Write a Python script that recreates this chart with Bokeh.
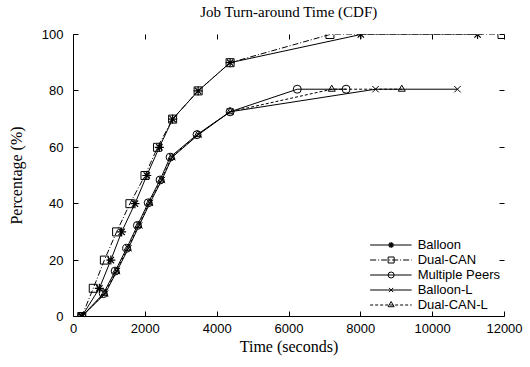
from bokeh.plotting import figure
from bokeh.models import LinearAxis, Legend, LegendItem, Range1d
from bokeh.embed import file_html
from bokeh.resources import INLINE

# ---- data ----
pct_upper = [0, 10, 20, 30, 40, 50, 60, 70, 80, 90, 100, 100]
pct_lower = [0, 8.1, 16.1, 24.2, 32.3, 40.3, 48.4, 56.5, 64.5, 72.6, 80.6, 80.6]

time_balloon = [230, 720, 1040, 1340, 1710, 2040, 2390, 2760, 3470, 4360, 8000, 11250]
time_dualcan = [230, 550, 860, 1200, 1570, 1990, 2340, 2760, 3470, 4360, 7140, 11930]
time_multipeers = [230, 830, 1160, 1480, 1780, 2080, 2410, 2690, 3440, 4360, 6230, 7590]
time_balloon_l = [230, 880, 1210, 1530, 1830, 2130, 2460, 2750, 3480, 4360, 8410, 10690]
time_dualcan_l = [230, 860, 1190, 1510, 1810, 2110, 2440, 2730, 3460, 4360, 7190, 9140]

x_ticks = [0, 2000, 4000, 6000, 8000, 10000, 12000]
y_ticks = [0, 20, 40, 60, 80, 100]

TITLE = "Job Turn-around Time (CDF)"
SERIF = "Liberation Serif"
SANS = "Liberation Sans"

p = figure(
    frame_width=431, frame_height=282,
    min_border_left=73, min_border_right=24, min_border_top=34, min_border_bottom=48,
    x_range=Range1d(0, 12000), y_range=Range1d(0, 100),
    output_backend="svg", toolbar_location=None,
)

p.outline_line_color = None
p.xgrid.visible = False
p.ygrid.visible = False
p.background_fill_color = "white"
p.border_fill_color = "white"

for ax in (p.xaxis[0], p.yaxis[0]):
    ax.major_tick_in = 5
    ax.major_tick_out = 0
    ax.minor_tick_line_color = None
    ax.axis_line_color = "black"
    ax.major_tick_line_color = "black"
    ax.major_label_text_font = SANS
    ax.major_label_text_font_size = "13px"
    ax.major_label_text_color = "black"
    ax.axis_label_text_font = SERIF
    ax.axis_label_text_font_size = "16px"
    ax.axis_label_text_font_style = "normal"
    ax.axis_label_text_color = "black"

p.xaxis[0].ticker = x_ticks
p.yaxis[0].ticker = y_ticks
p.xaxis[0].axis_label = "Time (seconds)"
p.yaxis[0].axis_label = "Percentage (%)"
p.xaxis[0].major_label_standoff = 7
p.xaxis[0].axis_label_standoff = 2
p.yaxis[0].major_label_standoff = 10
p.yaxis[0].axis_label_standoff = 14

# mirrored ticks on top (carrying the chart title) and right (no axis line, no labels)
top = LinearAxis(ticker=x_ticks, major_tick_in=5, major_tick_out=0,
                 axis_line_color=None, minor_tick_line_color=None,
                 major_label_overrides={t: "" for t in x_ticks},
                 major_label_standoff=0,
                 axis_label=TITLE, axis_label_text_font=SERIF,
                 axis_label_text_font_size="15px", axis_label_text_font_style="normal",
                 axis_label_text_color="black", axis_label_standoff=15)
right = LinearAxis(ticker=y_ticks, major_tick_in=5, major_tick_out=0,
                   axis_line_color=None, minor_tick_line_color=None,
                   major_label_overrides={t: "" for t in y_ticks},
                   major_label_standoff=0)
p.add_layout(top, "above")
p.add_layout(right, "right")

series = [
    ("Balloon", time_balloon, pct_upper, "solid", "asterisk", 9),
    ("Dual-CAN", time_dualcan, pct_upper, "6 2 1 2", "square", 8),
    ("Multiple Peers", time_multipeers, pct_lower, "solid", "circle", 8),
    ("Balloon-L", time_balloon_l, pct_lower, "solid", "x", 9),
    ("Dual-CAN-L", time_dualcan_l, pct_lower, "3 2", "triangle", 7),
]

items = []
for name, xs, ys, dash, marker, size in series:
    r1 = p.line(xs, ys, line_color="black", line_width=1, line_dash=dash)
    r2 = p.scatter(xs, ys, marker=marker, size=size, line_color="black",
                   fill_color=None, line_width=1.2 if marker == "asterisk" else 1)
    items.append(LegendItem(label=name, renderers=[r1, r2]))

legend = Legend(items=items, location="bottom_right")
legend.label_text_font = SANS
legend.label_text_font_size = "13px"
legend.label_text_color = "black"
legend.border_line_color = None
legend.background_fill_alpha = 0
legend.glyph_width = 42
legend.glyph_height = 15
legend.label_height = 15
legend.spacing = 0
legend.padding = 2
legend.margin = 4
legend.label_standoff = 6
p.add_layout(legend, "center")

open("out.html", "w").write(file_html(p, INLINE))
